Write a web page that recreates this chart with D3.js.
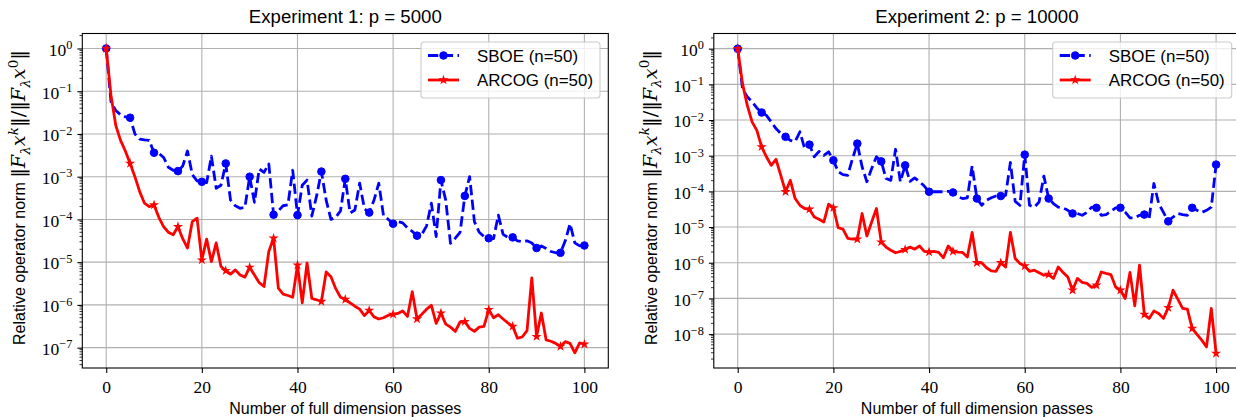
<!DOCTYPE html>
<html>
<head>
<meta charset="utf-8">
<script src="https://cdn.jsdelivr.net/npm/d3@7"></script>
<style>
  html, body { margin: 0; padding: 0; background: #fff; }
  svg { display: block; }
</style>
</head>
<body>
<svg id="chart" width="1236" height="417"></svg>
<script>
// ---------------- DATA (stored as log10 of the relative norm) ----------------
const passes = d3.range(0, 101);            // number of full dimension passes: 0..100
const markEvery = 5;
const seriesNames = ["SBOE (n=50)", "ARCOG (n=50)"];
const titles = ["Experiment 1: p = 5000", "Experiment 2: p = 10000"];
const xTickValues = [0, 20, 40, 60, 80, 100];
const yTickExponents1 = [0, -1, -2, -3, -4, -5, -6, -7];
const yTickExponents2 = [0, -1, -2, -3, -4, -5, -6, -7, -8];

const sboe1Log10 = [0,-1.25,-1.45,-1.55,-1.6,-1.62,-2.0,-2.12,-2.14,-2.15,
-2.44,-2.45,-2.55,-2.78,-2.85,-2.87,-2.75,-2.4,-2.95,-3.1,
-3.12,-3.14,-2.52,-3.27,-3.2,-2.69,-3.55,-3.68,-3.74,-3.72,
-3.0,-3.6,-2.82,-2.9,-2.7,-3.89,-3.8,-3.68,-3.66,-2.85,
-3.9,-3.2,-3.08,-3.92,-3.45,-2.88,-3.55,-4.0,-3.95,-3.8,
-3.05,-3.85,-3.78,-3.15,-3.75,-3.84,-3.55,-3.15,-3.92,-4.0,
-4.1,-4.05,-4.08,-4.2,-4.28,-4.38,-4.35,-4.15,-3.62,-4.4,
-3.08,-3.55,-4.56,-4.44,-4.3,-3.45,-3.0,-4.05,-4.3,-4.4,
-4.44,-4.45,-3.9,-4.35,-4.42,-4.42,-4.5,-4.52,-4.5,-4.55,
-4.67,-4.62,-4.68,-4.75,-4.78,-4.78,-4.5,-4.1,-4.55,-4.62,
-4.61];

const arcog1Log10 = [0,-1.1,-1.8,-2.15,-2.4,-2.69,-3.0,-3.35,-3.62,-3.7,
-3.66,-3.95,-4.17,-4.3,-4.36,-4.17,-4.45,-4.67,-4.05,-3.97,
-4.95,-4.46,-4.99,-4.55,-5.1,-5.2,-5.28,-5.18,-5.3,-5.35,
-5.12,-5.3,-5.48,-5.57,-4.75,-4.44,-5.61,-5.75,-5.78,-5.82,
-5.07,-5.95,-5.02,-5.85,-5.88,-5.92,-5.23,-5.34,-5.62,-5.82,
-5.87,-5.95,-6.03,-6.1,-6.25,-6.13,-6.28,-6.33,-6.3,-6.24,
-6.22,-6.2,-6.14,-6.27,-5.69,-6.33,-6.22,-6.1,-6.01,-6.43,
-6.19,-6.45,-6.52,-6.62,-6.4,-6.39,-6.55,-6.62,-6.52,-6.5,
-6.11,-6.3,-6.23,-6.33,-6.42,-6.5,-6.78,-6.75,-6.6,-5.37,
-6.74,-6.19,-6.82,-6.85,-6.9,-6.97,-6.86,-6.9,-7.12,-6.89,
-6.92];

const sboe2Log10 = [0,-1.12,-1.35,-1.49,-1.66,-1.79,-1.87,-2.05,-2.24,-2.38,
-2.47,-2.57,-2.6,-2.33,-2.8,-2.69,-3.03,-2.88,-2.99,-2.89,
-3.13,-3.45,-3.53,-3.55,-3.08,-2.66,-3.31,-3.73,-3.36,-3.03,
-3.16,-3.64,-3.69,-2.82,-3.73,-3.27,-3.72,-3.62,-3.73,-3.85,
-4.01,-4.01,-4.01,-4.01,-4.0,-4.03,-4.15,-4.2,-4.18,-3.29,
-4.2,-4.39,-4.25,-4.18,-4.13,-4.13,-4.11,-3.19,-4.28,-4.39,
-2.97,-4.39,-4.44,-4.30,-3.57,-4.2,-4.34,-4.44,-4.46,-4.53,
-4.62,-4.62,-4.67,-4.59,-4.44,-4.46,-4.67,-4.65,-4.56,-4.46,
-4.46,-4.58,-4.74,-4.74,-4.67,-4.65,-4.76,-3.78,-4.34,-4.59,
-4.84,-4.72,-4.62,-4.65,-4.67,-4.46,-4.53,-4.59,-4.53,-4.44,
-3.25];

const arcog2Log10 = [0,-0.98,-1.59,-2.05,-2.29,-2.75,-3.03,-3.27,-3.1,-3.55,
-4.01,-3.69,-4.2,-4.39,-4.48,-4.5,-4.72,-4.78,-4.86,-4.36,
-4.46,-5.02,-5.06,-5.32,-5.34,-5.34,-4.62,-5.25,-4.86,-4.48,
-5.42,-5.56,-5.65,-5.72,-5.68,-5.63,-5.56,-5.62,-5.53,-5.68,
-5.70,-5.68,-5.71,-5.86,-5.53,-5.68,-5.70,-5.71,-5.84,-5.15,
-6.0,-6.0,-6.14,-6.23,-6.24,-6.0,-6.12,-5.15,-5.88,-6.02,
-6.09,-6.24,-6.21,-6.28,-6.35,-6.33,-6.44,-6.12,-6.27,-6.40,
-6.77,-6.44,-6.55,-6.58,-6.69,-6.63,-6.26,-6.30,-6.33,-6.68,
-6.77,-7.0,-6.27,-7.21,-6.07,-7.45,-7.56,-7.35,-7.42,-7.56,
-7.26,-6.77,-7.02,-7.28,-7.30,-7.84,-8.01,-8.17,-8.36,-7.28,
-8.54];

// ---------------- LAYOUT / STYLE ----------------
const SANS = "'Liberation Sans', 'DejaVu Sans', sans-serif";
const SERIF = "'Liberation Serif', 'DejaVu Serif', serif";
const MATH = "'DejaVu Serif', 'Liberation Serif', serif";
const FS = 16.7;           // 12pt at 100 dpi
const TOP = 33.5, BOTTOM = 368;
const panels = [
  { left: 82.3, right: 608.3, yLogDomain: [-7.476, 0.35], title: titles[0], yTicks: yTickExponents1, sboe: sboe1Log10, arcog: arcog1Log10 },
  { left: 713.8, right: 1240.0, yLogDomain: [-8.95, 0.425], title: titles[1], yTicks: yTickExponents2, sboe: sboe2Log10, arcog: arcog2Log10 }
];
const BLUE = "#0000ff", RED = "#ff0000";
const LW = 2.8;

const svg = d3.select("#chart");

// font sizes chosen so that the text widths match the reference (Computer Modern Sans)
function fitSize(txt, family, target) {
  const t = svg.append("text").attr("font-family", family).attr("font-size", FS).text(txt);
  const w = t.node().getComputedTextLength();
  t.remove();
  return FS * target / w;
}
const labelFS = fitSize("Number of full dimension passes", SANS, 232);
const titleFS = fitSize(titles[0], SANS, 193);
const legendFS = fitSize(seriesNames[0], SANS, 101);

panels.forEach((p, pi) => {
  const x = d3.scaleLinear().domain([-5, 105]).range([p.left, p.right]);
  const y = d3.scaleLog().domain([Math.pow(10, p.yLogDomain[0]), Math.pow(10, p.yLogDomain[1])]).range([BOTTOM, TOP]);
  const g = svg.append("g");

  const clipId = "clip" + pi;
  svg.append("clipPath").attr("id", clipId).append("rect")
    .attr("x", p.left).attr("y", TOP).attr("width", p.right - p.left).attr("height", BOTTOM - TOP);

  // grid
  const grid = g.append("g").attr("clip-path", `url(#${clipId})`);
  xTickValues.forEach(v => {
    grid.append("line").attr("x1", x(v)).attr("x2", x(v)).attr("y1", TOP).attr("y2", BOTTOM)
      .attr("stroke", "#b0b0b0").attr("stroke-width", 1.1);
  });
  p.yTicks.forEach(e => {
    const yy = y(Math.pow(10, e));
    grid.append("line").attr("x1", p.left).attr("x2", p.right).attr("y1", yy).attr("y2", yy)
      .attr("stroke", "#b0b0b0").attr("stroke-width", 1.1);
  });

  // series
  const series = [
    { name: seriesNames[0], vals: p.sboe, color: BLUE, dash: "10.3,4.45", marker: "circle" },
    { name: seriesNames[1], vals: p.arcog, color: RED, dash: null, marker: "star" }
  ];
  const starPath = d3.symbol(d3.symbolStar).size(13)();
  const plot = g.append("g").attr("clip-path", `url(#${clipId})`);
  series.forEach(s => {
    const pts = passes.map((k, i) => [k, Math.pow(10, s.vals[i])]);
    const line = d3.line().x(d => x(d[0])).y(d => y(d[1]));
    plot.append("path").attr("d", line(pts)).attr("fill", "none")
      .attr("stroke", s.color).attr("stroke-width", LW)
      .attr("stroke-linejoin", "round").attr("stroke-linecap", s.dash ? "butt" : "round")
      .attr("stroke-dasharray", s.dash);
    const mk = pts.filter((d, i) => i % markEvery === 0);
    if (s.marker === "circle") {
      plot.selectAll(null).data(mk).enter().append("circle")
        .attr("cx", d => x(d[0])).attr("cy", d => y(d[1])).attr("r", 3.8)
        .attr("fill", s.color).attr("stroke", s.color).attr("stroke-width", 1);
    } else {
      plot.selectAll(null).data(mk).enter().append("path")
        .attr("d", starPath).attr("transform", d => `translate(${x(d[0])},${y(d[1])})`)
        .attr("fill", s.color).attr("stroke", s.color).attr("stroke-width", 1.2);
    }
  });

  // spines
  g.append("rect").attr("x", p.left).attr("y", TOP).attr("width", p.right - p.left).attr("height", BOTTOM - TOP)
    .attr("fill", "none").attr("stroke", "#000").attr("stroke-width", 1.1);

  // x axis ticks
  const xAxis = d3.axisBottom(x).tickValues(xTickValues).tickSize(4.9).tickFormat(d3.format("d"));
  const xa = g.append("g").attr("transform", `translate(0,${BOTTOM})`).call(xAxis);
  xa.select(".domain").remove();
  xa.selectAll(".tick line").attr("stroke-width", 1.1);
  xa.selectAll(".tick text").attr("font-family", SERIF).attr("font-size", 17.5).attr("fill", "#000")
    .attr("y", 24.8).attr("dy", null);

  // y axis major ticks with 10^e labels
  const yAxis = d3.axisLeft(y).tickValues(p.yTicks.map(e => Math.pow(10, e))).tickSize(4.9).tickPadding(5.0).tickFormat("");
  const ya = g.append("g").attr("transform", `translate(${p.left},0)`).call(yAxis);
  ya.select(".domain").remove();
  ya.selectAll(".tick line").attr("stroke-width", 1.1);
  ya.selectAll(".tick").each(function(v) {
    const e = Math.round(Math.log10(v));
    const t = d3.select(this).select("text")
      .attr("font-family", SERIF).attr("font-size", 17.5).attr("fill", "#000")
      .attr("dy", null).attr("y", 6.8);
    t.text(null);
    t.append("tspan").text("10");
    t.append("tspan").attr("font-size", 12.3).attr("dy", -6.5)
      .text(e === 0 ? "0" : "\u2212" + Math.abs(e));
  });
  // minor ticks
  const minor = [];
  for (let e = Math.floor(p.yLogDomain[0]); e <= Math.ceil(p.yLogDomain[1]); e++) {
    for (let m = 2; m <= 9; m++) {
      const v = m * Math.pow(10, e);
      const lv = Math.log10(v);
      if (lv >= p.yLogDomain[0] && lv <= p.yLogDomain[1]) minor.push(v);
    }
  }
  g.append("g").selectAll(null).data(minor).enter().append("line")
    .attr("x1", p.left).attr("x2", p.left - 2.8)
    .attr("y1", d => y(d)).attr("y2", d => y(d))
    .attr("stroke", "#000").attr("stroke-width", 0.8);

  // title
  g.append("text").attr("x", (p.left + p.right) / 2).attr("y", 23)
    .attr("text-anchor", "middle").attr("font-family", SANS).attr("font-size", titleFS)
    .text(p.title);

  // x label
  g.append("text").attr("x", (p.left + p.right) / 2).attr("y", 413.5)
    .attr("text-anchor", "middle").attr("font-family", SANS).attr("font-size", labelFS)
    .text("Number of full dimension passes");

  // y label: sans words followed by serif math, total length about 295 px
  const ylx = p.left - 57, yly = 197.5;
  const yl = g.append("text").attr("transform", `translate(${ylx},${yly}) rotate(-90)`)
    .attr("text-anchor", "middle").attr("font-family", SANS).attr("font-size", labelFS);
  const words = yl.append("tspan").text("Relative operator norm ");
  const mathParts = [];
  const math = (txt, opts = {}) => {
    const ts = yl.append("tspan").attr("font-family", MATH).text(txt);
    mathParts.push({ ts, size: opts.size || 1, dy: opts.dy || 0 });
    if (opts.italic) ts.attr("font-style", "italic");
    return ts;
  };
  math("\u2016");
  math("F", { italic: true });
  math("\u03BB", { italic: true, size: 0.7, dy: 0.22 });
  math("x", { italic: true, dy: -0.22 });
  math("k", { italic: true, size: 0.7, dy: -0.4 });
  math("\u2016/\u2016", { dy: 0.4 });
  math("F", { italic: true });
  math("\u03BB", { italic: true, size: 0.7, dy: 0.22 });
  math("x", { italic: true, dy: -0.22 });
  math("0", { size: 0.7, dy: -0.4 });
  math("\u2016", { dy: 0.4 });
  const applyMath = base => mathParts.forEach(m => m.ts.attr("font-size", base * m.size).attr("dy", m.dy * base));
  applyMath(FS);
  const wordsLen = words.node().getComputedTextLength();
  const totalLen = yl.node().getComputedTextLength();
  applyMath(FS * (295 - wordsLen) / (totalLen - wordsLen));

  // legend
  const lx = p.right - 187.3, ly = 42, lw = 179, lh = 56;
  const leg = g.append("g");
  leg.append("rect").attr("x", lx).attr("y", ly).attr("width", lw).attr("height", lh)
    .attr("rx", 3).attr("ry", 3).attr("fill", "#fff").attr("fill-opacity", 0.8)
    .attr("stroke", "#cccccc").attr("stroke-width", 1.1);
  series.forEach((s, i) => {
    const ry = ly + 13.5 + i * 24.5;
    leg.append("line").attr("x1", lx + 7).attr("x2", lx + 38).attr("y1", ry).attr("y2", ry)
      .attr("stroke", s.color).attr("stroke-width", LW).attr("stroke-dasharray", s.dash);
    if (s.marker === "circle") {
      leg.append("circle").attr("cx", lx + 22.5).attr("cy", ry).attr("r", 3.8)
        .attr("fill", s.color).attr("stroke", s.color).attr("stroke-width", 1);
    } else {
      leg.append("path").attr("d", starPath)
        .attr("transform", `translate(${lx + 22.5},${ry})`)
        .attr("fill", s.color).attr("stroke", s.color).attr("stroke-width", 1.2);
    }
    leg.append("text").attr("x", lx + 56).attr("y", ry).attr("dy", "0.36em")
      .attr("font-family", SANS).attr("font-size", legendFS).text(s.name);
  });
});
</script>
</body>
</html>
